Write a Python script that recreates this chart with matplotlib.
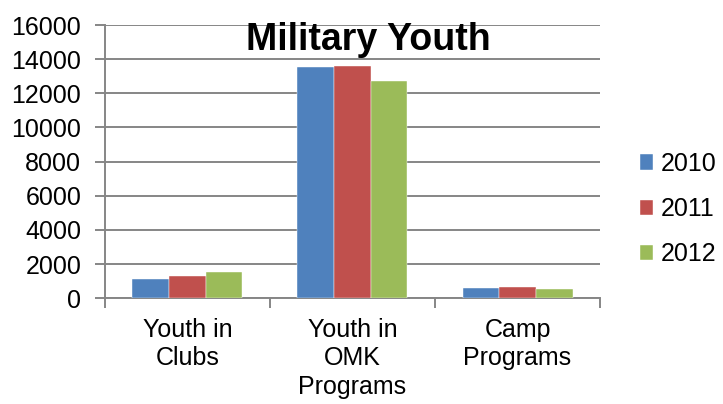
import numpy as np
import matplotlib.pyplot as plt

plt.rcParams['font.family'] = ['Liberation Sans', 'DejaVu Sans']

categories = ["Youth in\nClubs", "Youth in\nOMK\nPrograms", "Camp\nPrograms"]
years = ["2010", "2011", "2012"]
values_2010 = [1150, 13550, 600]
values_2011 = [1300, 13600, 650]
values_2012 = [1550, 12700, 550]
colors = ["#4F81BD", "#C0504D", "#9BBB59"]

series = [values_2010, values_2011, values_2012]

fig = plt.figure(figsize=(7.23, 4.04), dpi=100)
ax = fig.add_axes([0.145, 0.262, 0.685, 0.676])

x = np.arange(len(categories))
w = 1 / 4.5
for i, (vals, yr, c) in enumerate(zip(series, years, colors)):
    ax.bar(x + (i - 1) * w, vals, w, color=c, label=yr, zorder=3,
           edgecolor="white", linewidth=0.3)

ax.set_ylim(0, 16000)
ax.set_yticks(np.arange(0, 16001, 2000))
ax.set_xlim(-0.5, 2.5)
ax.yaxis.grid(True, color="#868686", linewidth=1.4, zorder=0)
ax.set_axisbelow(True)

for s in ["top", "right"]:
    ax.spines[s].set_visible(False)
for s in ["left", "bottom"]:
    ax.spines[s].set_color("#868686")
    ax.spines[s].set_linewidth(1.4)

ax.set_xticks(x)
ax.set_xticklabels(categories, fontsize=18, linespacing=1.25)
ax.set_xticks([-0.5, 0.5, 1.5, 2.5], minor=True)
ax.tick_params(axis="x", which="major", length=0, pad=14)
ax.tick_params(axis="x", which="minor", length=7, width=1.4, color="#868686")
ax.tick_params(axis="y", length=7, width=1.4, color="#868686",
               labelsize=18, pad=10)

fig.text(0.509, 0.9, "Military Youth", fontsize=27, fontweight="bold",
         ha="center", va="center")

ax.legend(loc="center left", bbox_to_anchor=(1.08, 0.326), frameon=False,
          fontsize=18, handlelength=0.55, handleheight=0.55,
          handletextpad=0.3, labelspacing=0.85, borderpad=0,
          borderaxespad=0)

fig.savefig("out.png", dpi=100)
